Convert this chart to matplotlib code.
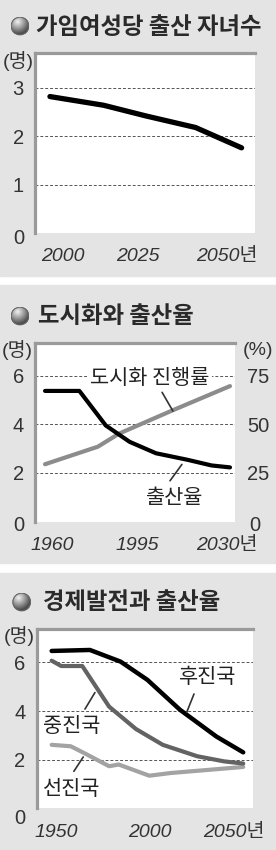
import numpy as np
import matplotlib
matplotlib.use('Agg')
import matplotlib.pyplot as plt
from matplotlib.patches import Rectangle, Circle
from matplotlib.transforms import ScaledTranslation

plt.rcParams['font.family'] = ['Liberation Sans', 'Noto Sans CJK KR']
KR = ['Noto Sans CJK KR', 'DejaVu Sans']

# ---- data --------------------------------------------------------------
# 1) 가임여성당 출산 자녀수 (명)
years1 = [2000, 2014, 2025, 2038, 2050]
births1 = [2.82, 2.64, 2.42, 2.18, 1.76]
xticks1 = [2000, 2025, 2050]
xlabels1 = ['2000', '2025', '2050년']
yticks1 = [0, 1, 2, 3]

# 2) 도시화와 출산율
years2b = [1960, 1973, 1983, 1992, 2002, 2014, 2023, 2030]
births2 = [5.37, 5.37, 3.95, 3.28, 2.81, 2.54, 2.31, 2.23]      # 명
years2u = [1960, 1980, 1988, 2008, 2030]
urban2 = [29.5, 38.5, 45.2, 57.0, 69.6]                          # %
xticks2 = [1960, 1995, 2030]
xlabels2 = ['1960', '1995', '2030년']
yticks2 = [0, 2, 4, 6]
yticks2r = [0, 25, 50, 75]

# 3) 경제발전과 출산율 (명)
years3_low = [1950, 1970, 1986, 2000, 2017, 2036, 2050]
low3 = [6.47, 6.51, 6.03, 5.28, 4.05, 2.95, 2.30]               # 후진국
years3_mid = [1950, 1955, 1966, 1980, 1994, 2008, 2026, 2040, 2050]
mid3 = [6.07, 5.85, 5.85, 4.18, 3.26, 2.61, 2.14, 1.93, 1.84]   # 중진국
years3_high = [1950, 1960, 1967, 1980, 1985, 2001, 2012, 2050]
high3 = [2.61, 2.55, 2.27, 1.73, 1.80, 1.34, 1.45, 1.70]        # 선진국
xticks3 = [1950, 2000, 2050]
xlabels3 = ['1950', '2000', '2050년']
yticks3 = [0, 2, 4, 6]

# ---- figure ------------------------------------------------------------
W, H = 276, 850
fig = plt.figure(figsize=(W / 100, H / 100), dpi=100)
fig.patch.set_facecolor('white')
BG = '#e4e4e4'
for top, bot in [(0, 276), (285, 563), (573, 850)]:
    fig.patches.append(Rectangle((0, 1 - bot / H), 1, (bot - top) / H,
                                 transform=fig.transFigure, color=BG,
                                 zorder=-10))


def px_axes(l, t, r, b):
    return fig.add_axes([l / W, 1 - b / H, (r - l) / W, (b - t) / H])


def bullet(cx, cy, r=9.5):
    bax = fig.add_axes([(cx - r) / W, 1 - (cy + r) / H, 2 * r / W, 2 * r / H])
    bax.axis('off')
    g = np.linspace(-1, 1, 80)
    xx, yy = np.meshgrid(g, g)
    d = np.hypot(xx + 0.3, yy + 0.4)
    shade = np.clip(0.95 - 0.5 * d, 0.3, 1)
    im = bax.imshow(shade, cmap='gray', vmin=0, vmax=1, extent=(-1, 1, -1, 1),
                    origin='upper')
    im.set_clip_path(Circle((0, 0), 0.97, transform=bax.transData))
    bax.add_patch(Circle((0, 0), 0.93, fill=False, ec='#666', lw=0.8))
    bax.set_xlim(-1, 1)
    bax.set_ylim(-1, 1)


def title(x, y, s, cx, cy):
    bullet(cx, cy)
    fig.text(x / W, 1 - y / H, s, family=KR, fontsize=16.8, weight='bold',
             color='#2a2a2a', ha='left', va='center')


def setup(ax, xlim, ylim, yticks, xticks, xlabels, xoff, zero_off=0):
    ax.set_facecolor('white')
    ax.set_xlim(*xlim)
    ax.set_ylim(*ylim)
    for s in ['right', 'bottom']:
        ax.spines[s].set_visible(False)
    for s in ['left', 'top']:
        ax.spines[s].set_color('#9a9a9a')
        ax.spines[s].set_linewidth(2.3)
    ax.set_yticks(yticks)
    ax.set_xticks(xticks)
    ax.set_xticklabels(xlabels, fontstyle='italic')
    ax.tick_params(axis='y', length=0, pad=8, labelsize=14.5, labelcolor='#333')
    ax.tick_params(axis='x', length=0, pad=11, labelsize=14, labelcolor='#333')
    ax.grid(axis='y', ls=(0, (3, 2)), color='#555', lw=0.7)
    ax.set_axisbelow(True)
    for lab, dx in zip(ax.get_xticklabels(), xoff):
        lab.set_transform(lab.get_transform() +
                          ScaledTranslation(dx / 100, 0, fig.dpi_scale_trans))
    lab0 = ax.get_yticklabels()[0]
    lab0.set_transform(lab0.get_transform() +
                       ScaledTranslation(0, -zero_off / 100, fig.dpi_scale_trans))


def unit(x, y, s, ha='center'):
    fig.text(x / W, 1 - y / H, s, fontsize=14, color='#333', ha=ha, va='center')


def label(ax, xy, s):
    ax.text(xy[0], xy[1], s, family=KR, fontsize=15, weight='medium',
            color='#222', ha='center', va='center',
            bbox=dict(boxstyle='square,pad=0.1', fc='white', ec='none'))


def leader(ax, p0, p1):
    ax.annotate('', xy=p1, xytext=p0,
                arrowprops=dict(arrowstyle='-', color='#333', lw=1.2,
                                shrinkA=0, shrinkB=0))


# ---- panel 1 -----------------------------------------------------------
title(36, 27, '가임여성당 출산 자녀수', 20, 26)
ax1 = px_axes(35, 53, 255, 233)
setup(ax1, (1996.1, 2053.5), (0.05, 3.72), yticks1, xticks1, xlabels1,
      [13, -8, -15], zero_off=3)
ax1.plot(years1, births1, color='black', lw=3.8, solid_capstyle='round',
         solid_joinstyle='round')
unit(18, 61, '(명)')

# ---- panel 2 -----------------------------------------------------------
title(38, 316, '도시화와 출산율', 20, 316)
ax2 = px_axes(35, 342.7, 235, 521.7)
setup(ax2, (1956.2, 2031.9), (0.11, 7.35), yticks2, xticks2, xlabels2,
      [7, 0, -3], zero_off=2)
ax2r = ax2.twinx()
ax2r.set_ylim(0.11 * 12.5, 7.35 * 12.5)
ax2r.set_yticks(yticks2r)
for s in ax2r.spines.values():
    s.set_visible(False)
ax2r.tick_params(axis='y', length=0, pad=9, labelsize=14.5, labelcolor='#333')
lab0 = ax2r.get_yticklabels()[0]
lab0.set_transform(lab0.get_transform() +
                   ScaledTranslation(0.02, -0.02, fig.dpi_scale_trans))
ax2r.plot(years2u, urban2, color='#8c8c8c', lw=3.0, solid_capstyle='round',
          solid_joinstyle='round')
ax2r.plot(years2b, [v * 12.5 for v in births2], color='black', lw=3.0,
          solid_capstyle='round', solid_joinstyle='round')
label(ax2r, (1999.7, 74), '도시화 진행률')
leader(ax2r, (2004.3, 66.4), (2008.4, 56.8))
label(ax2r, (2009.2, 12.4), '출산율')
leader(ax2r, (2011.8, 29.4), (2007.3, 21.0))
unit(17.5, 350.5, '(명)')
unit(257.5, 350.5, '(%)')

# ---- panel 3 -----------------------------------------------------------
title(43, 602, '경제발전과 출산율', 21.7, 602)
ax3 = px_axes(36.7, 629.3, 253, 808.3)
setup(ax3, (1942.2, 2055.1), (0.02, 7.36), yticks3, xticks3, xlabels3,
      [5, 2.5, -9], zero_off=8)
kw = dict(solid_capstyle='round', solid_joinstyle='round')
ax3.plot(years3_high, high3, color='#a3a3a3', lw=3.0, **kw)
ax3.plot(years3_mid, mid3, color='#636363', lw=3.0, **kw)
ax3.plot(years3_low, low3, color='black', lw=3.2, **kw)
label(ax3, (2031.3, 5.38), '후진국')
leader(ax3, (2024.3, 4.70), (2020.5, 3.95))
label(ax3, (1960.4, 3.39), '중진국')
leader(ax3, (1972.6, 4.76), (1967.4, 4.08))
label(ax3, (1960.4, 0.81), '선진국')
leader(ax3, (1966.5, 2.11), (1961.6, 1.52))
unit(19, 636, '(명)')

fig.savefig('out.png', dpi=100)
